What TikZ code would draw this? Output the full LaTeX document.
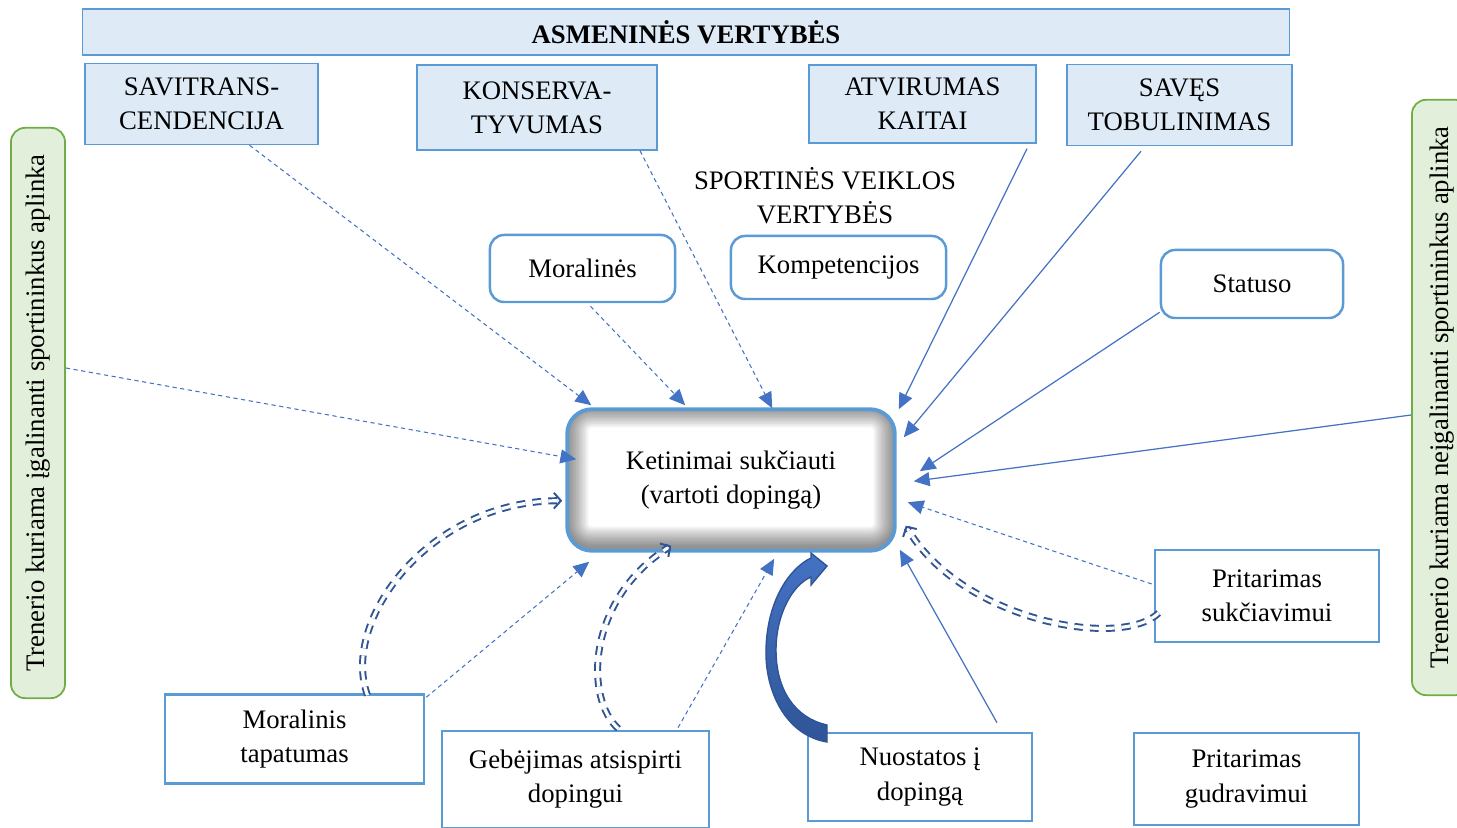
\documentclass[tikz,border=0pt]{standalone}
\usepackage{fontspec}
\setmainfont{Liberation Serif}
\usetikzlibrary{positioning,calc,arrows.meta}
\definecolor{boxblue}{HTML}{5B9BD5}
\definecolor{valfill}{HTML}{DEEBF7}
\definecolor{arrowblue}{HTML}{4472C4}
\definecolor{darkblue}{HTML}{2F5597}
\definecolor{envgreen}{HTML}{70AD47}
\definecolor{envfill}{HTML}{E2EFDA}
\tikzset{
  valbox/.style={draw=boxblue, fill=valfill, line width=0.4pt, align=center, inner sep=0pt},
  sportbox/.style={draw=boxblue, fill=white, rounded corners=4pt, line width=0.7pt, align=center, inner sep=0pt},
  factorbox/.style={draw=boxblue, fill=white, line width=0.7pt, align=center, inner sep=0pt},
  envbox/.style={draw=envgreen, fill=envfill, rounded corners=4pt, line width=0.5pt, inner sep=0pt},
  ketbox/.style={fill=white, rounded corners=7pt, align=center, inner sep=0pt},
  dasharr/.style={arrowblue, line width=0.3pt, dash pattern=on 1.2pt off 1pt, -{Triangle[length=4.5pt,width=4pt]}},
  solidarr/.style={arrowblue, line width=0.35pt, -{Triangle[length=4.5pt,width=4pt]}},
  loopdash/.style={draw=darkblue, double=white, line width=0.55pt, double distance=0.9pt, dash pattern=on 2.5pt off 2pt, -{Straight Barb[length=2pt,width=4.5pt]}},
}

\begin{document}
\begin{tikzpicture}[x=0.01cm, y=-0.01cm, font=\fontsize{7.6}{9.7}\selectfont]
    \useasboundingbox (0,0) rectangle (1457,828);

    % Asmenines vertybes
    \node[valbox, minimum width=12.06cm, minimum height=0.46cm] (asm) at (686,32) {\textbf{ASMENINĖS VERTYBĖS}};
    \node[valbox, minimum width=2.33cm, minimum height=0.81cm] (sav) at (201.5,104) {SAVITRANS-\\CENDENCIJA};
    \node[valbox, minimum width=2.40cm, minimum height=0.85cm] (kon) at (537,107.5) {KONSERVA-\\TYVUMAS};
    \node[valbox, minimum width=2.27cm, minimum height=0.78cm] (atv) at (922.5,104) {ATVIRUMAS\\KAITAI};
    \node[valbox, minimum width=2.25cm, minimum height=0.81cm] (tob) at (1179.5,105) {SAVĘS\\TOBULINIMAS};

    % Sportines veiklos vertybes
    \node[align=center] (spv) at (825,196) {SPORTINĖS VEIKLOS\\VERTYBĖS};
    \node[sportbox, minimum width=1.85cm, minimum height=0.67cm] (mor) at (582.5,268.5) {Moralinės};
    \node[sportbox, minimum width=2.15cm, minimum height=0.63cm] (komp) at (838.5,267.5) {Kompetencijos};
    \node[sportbox, minimum width=1.82cm, minimum height=0.68cm] (stat) at (1252,284) {Statuso};

    % Aplinka
    \node[envbox, minimum width=0.54cm, minimum height=5.70cm] (envL) at (38,413) {};
    \node[rotate=90] at (envL.center) {Trenerio kuriama įgalinanti sportininkus aplinka};
    \node[envbox, minimum width=0.58cm, minimum height=5.95cm] (envR) at (1441,397.5) {};
    \node[rotate=90] at (1442,397.5) {Trenerio kuriama neįgalinanti sportininkus aplinka};

    % Veiksniai
    \node[factorbox, minimum width=2.59cm, minimum height=0.89cm] (mtap) at (294.5,739) {Moralinis\\tapatumas};
    \node[factorbox, minimum width=2.67cm, minimum height=0.97cm] (geb) at (575.5,779.5) {Gebėjimas atsispirti\\dopingui};
    \node[factorbox, minimum width=2.24cm, minimum height=0.88cm] (nuo) at (920,777) {Nuostatos į\\dopingą};
    \node[factorbox, minimum width=2.25cm, minimum height=0.92cm] (gud) at (1246.5,779) {Pritarimas\\gudravimui};
    \node[factorbox, minimum width=2.24cm, minimum height=0.92cm] (suk) at (1267,596) {Pritarimas\\sukčiavimui};

    % Ketinimai
    \node[ketbox, minimum width=3.26cm, minimum height=1.40cm] (ket) at (731,480) {Ketinimai sukčiauti\\(vartoti dopingą)};
    \begin{scope}
        \clip[rounded corners=7pt] (ket.south west) rectangle (ket.north east);
        \foreach \w in {1,...,12}
            \draw[black, opacity=0.045, line width=\w pt, rounded corners=7pt] ($(ket.south west)+(0,-3)$) rectangle ($(ket.north east)+(0,-3)$);
    \end{scope}
    \draw[boxblue, line width=1.1pt, rounded corners=7pt] (ket.south west) rectangle (ket.north east);

    % Rodykles
    \draw[dasharr] ($(sav.south)+(48,0)$) -- ($(ket.north west)+(24,-4)$);
    \draw[dasharr] ($(kon.south)+(103,0)$) -- ($(ket.north west)+(205,-1)$);
    \draw[dasharr] ($(mor.south)+(8,3)$) -- ($(ket.north west)+(118,-4)$);
    \draw[solidarr] ($(atv.south)+(104.5,5)$) -- ($(ket.north east)+(4,0)$);
    \draw[solidarr] ($(tob.south)+(-38.5,5)$) -- ($(ket.north east)+(9,28)$);
    \draw[solidarr] ($(stat.south west)+(0,-7)$) -- ($(ket.north east)+(25,62)$);
    \draw[solidarr] ($(envR.west)+(0,17.5)$) -- ($(ket.north east)+(19,72)$);
    \draw[dasharr] ($(envL.east)+(0,-45)$) -- ($(ket.north west)+(9,50)$);
    \draw[dasharr] ($(suk.west)+(-2,-12)$) -- ($(ket.north east)+(13,93)$);
    \draw[solidarr] ($(nuo.north)+(77,-9)$) -- ($(ket.south east)+(5,-1)$);
    \draw[dasharr] ($(geb.north)+(102.5,-2)$) -- ($(ket.south west)+(207,8)$);
    \draw[dasharr] ($(mtap.north east)+(1,4)$) -- ($(ket.south west)+(22,11)$);

    % Grizimo rodykles
    \draw[loopdash] ($(mtap.north)+(73,2)$) .. controls (340,620) and (430,500) .. ($(ket.south west)+(-5,-50)$);
    \draw[loopdash] ($(geb.north)+(43,-1)$) .. controls (585,700) and (585,600) .. ($(ket.south west)+(104,-5)$);
    \draw[loopdash] ($(suk.west)+(5,17)$) .. controls (1120,650) and (960,620) .. ($(ket.south east)+(11,-25)$);

    % Didele rodykle
    \shade[top color=arrowblue, bottom color=darkblue, draw=darkblue, line width=0.4pt]
        (827,742) .. controls (785,735) and (765,690) .. (766,650)
        .. controls (767,600) and (790,568) .. (811,558) -- (811,553) -- (827,566) -- (811,585) -- (811,577)
        .. controls (792,585) and (776,615) .. (776,650)
        .. controls (776,690) and (795,718) .. (827,725) -- cycle;
\end{tikzpicture}
\end{document}
